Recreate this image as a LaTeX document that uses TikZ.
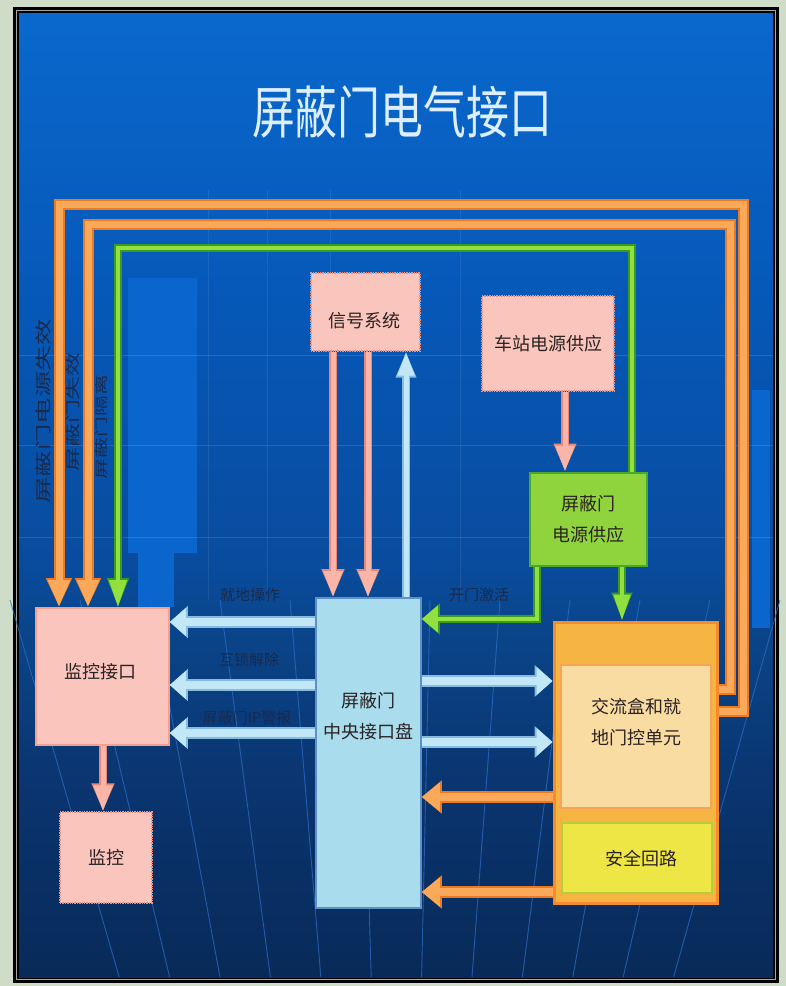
\documentclass[tikz,border=0pt]{standalone}
\usepackage{fontspec}
\newfontfamily\cjk{Noto Sans CJK SC}
\usetikzlibrary{arrows.meta,calc}
\definecolor{framebg}{HTML}{CFDCC8}
\definecolor{bgA}{HTML}{0A68CC}
\definecolor{bgB}{HTML}{0658B8}
\definecolor{bgC}{HTML}{094C9E}
\definecolor{bgD}{HTML}{0A4488}
\definecolor{bgD2}{HTML}{0A3570}
\definecolor{bgE}{HTML}{082A58}
\definecolor{bldg}{HTML}{0A66CC}
\definecolor{pinkF}{HTML}{F9C5BD}
\definecolor{pinkB}{HTML}{E0948A}
\definecolor{pinkS}{HTML}{F3A090}
\definecolor{greenF}{HTML}{8FD43C}
\definecolor{greenB}{HTML}{4AA82A}
\definecolor{panelF}{HTML}{A9DCEC}
\definecolor{panelB}{HTML}{5F8FC8}
\definecolor{oboxF}{HTML}{F6B443}
\definecolor{oboxB}{HTML}{F58B2C}
\definecolor{cboxF}{HTML}{F9DCA2}
\definecolor{cboxB}{HTML}{F6A45A}
\definecolor{yboxF}{HTML}{EDE645}
\definecolor{yboxB}{HTML}{B5CF3C}
\definecolor{txtC}{HTML}{2B2222}
\definecolor{lblC}{HTML}{1A2A4C}
\definecolor{titleC}{HTML}{DCEEFF}
\definecolor{arBlueF}{HTML}{C2E8F8}
\definecolor{arBlueB}{HTML}{86BCE2}
\definecolor{arOrF}{HTML}{FAA85A}
\definecolor{arOrB}{HTML}{EC7A22}
\definecolor{arPkF}{HTML}{F9B6A8}
\definecolor{arPkB}{HTML}{E8887A}
\definecolor{arGrF}{HTML}{92E040}
\definecolor{arGrB}{HTML}{3A9A22}
\definecolor{floorL}{HTML}{2C6CC8}
\pgfdeclareverticalshading{bgshade}{100bp}{color(0bp)=(bgE); color(25bp)=(bgE); color(35.2bp)=(bgD2); color(42.5bp)=(bgD); color(46.6bp)=(bgC); color(60bp)=(bgB); color(75bp)=(bgA); color(100bp)=(bgA)}
\tikzset{
  boxtext/.style={text=txtC, font={\cjk\fontsize{18}{31}\selectfont}, align=center, inner sep=0pt},
  pinkdot/.style={boxtext, fill=pinkF, draw=pinkB, densely dotted, line width=1.4pt},
  pinksolid/.style={boxtext, fill=pinkF, draw=pinkS, line width=1.6pt},
  greenbox/.style={boxtext, fill=greenF, draw=greenB, line width=2pt},
  panelbox/.style={boxtext, fill=panelF, draw=panelB, line width=1.6pt},
  obox/.style={boxtext, fill=oboxF, draw=oboxB, line width=3pt},
  cbox/.style={boxtext, fill=cboxF, draw=cboxB, line width=2pt},
  ybox/.style={boxtext, fill=yboxF, draw=yboxB, line width=2pt},
  lbl/.style={text=lblC, font={\cjk\fontsize{15}{18}\selectfont}, inner sep=0pt},
  bluearrow/.style={draw=arBlueF, line width=8pt, -{Triangle[width=27pt,length=16pt]},
     preaction={draw=arBlueB, line width=11.5pt, -{Triangle[width=31pt,length=18pt]}}},
  blueup/.style={draw=arBlueF, line width=5pt, -{Triangle[width=16pt,length=24pt]},
     preaction={draw=arBlueB, line width=8pt, -{Triangle[width=19pt,length=26pt]}}},
  orangearrow/.style={draw=arOrF, line width=8pt, -{Triangle[width=28pt,length=18pt]},
     preaction={draw=arOrB, line width=11.5pt, -{Triangle[width=32pt,length=20pt]}}},
  pinkarrow/.style={draw=arPkF, line width=5pt, -{Triangle[width=18pt,length=26pt]},
     preaction={draw=arPkB, line width=8.5pt, -{Triangle[width=21pt,length=28pt]}}},
  greenarrow/.style={draw=arGrF, line width=4.5pt, line join=miter, -{Triangle[width=26pt,length=16pt]},
     preaction={draw=arGrB, line width=8pt, line join=miter, -{Triangle[width=30pt,length=18pt]}}},
  greendown/.style={draw=arGrF, line width=4.5pt, -{Triangle[width=16pt,length=26pt]},
     preaction={draw=arGrB, line width=8pt, -{Triangle[width=19pt,length=28pt]}}},
  greenloop/.style={draw=arGrF, line width=4.5pt, line join=miter, -{Triangle[width=17pt,length=27pt]},
     preaction={draw=arGrB, line width=8pt, line join=miter, -{Triangle[width=20pt,length=29pt]}}},
  orangeloop/.style={draw=arOrF, line width=7pt, line join=miter, -{Triangle[width=20pt,length=27pt]},
     preaction={draw=arOrB, line width=11pt, line join=miter, -{Triangle[width=24pt,length=29pt]}}},
}
\begin{document}
\begin{tikzpicture}[x=1pt,y=-1pt]
\useasboundingbox (0,0) rectangle (786,986);
% frame and background
\fill[framebg] (0,0) rectangle (786,986);
\fill[black] (13,7) rectangle (779,983);
\draw[gray!70, line width=0.8pt] (16.5,10.5) rectangle (775.5,979.5);
\shade[shading=bgshade] (19,13) rectangle (773,977);
% background silhouettes and grid
\fill[bldg] (128,278) rectangle (197,553);
\fill[bldg] (138,553) rectangle (174,607);
\fill[bldg] (752,390) rectangle (770,628);
\foreach \yy in {355,445,537} \draw[white, opacity=0.12, line width=1pt] (19,\yy) -- (773,\yy);
\foreach \xx in {208,267,330,460} \draw[white, opacity=0.08, line width=1pt] (\xx,190) -- (\xx,600);
\foreach \xt in {10,80,150,220,290,360,430,500,570,640,710,780}
  \draw[floorL, opacity=0.75, line width=0.9pt] (\xt,600) -- ({400+(\xt-400)*0.72},977);
% title
\node[text=titleC, font={\cjk\fontsize{42}{50}\selectfont}, inner sep=0pt] (title) at (402,112) {\scalebox{1.02}[1.35]{屏蔽门电气接口}};
% side labels
\node[lbl, rotate=90, font={\cjk\fontsize{16}{18}\selectfont}] (v1) at (43,411) {\scalebox{1.65}[1]{屏蔽门电源失效}};
\node[lbl, rotate=90, font={\cjk\fontsize{14.5}{18}\selectfont}] (v2) at (73,412) {\scalebox{1.65}[1]{屏蔽门失效}};
\node[lbl, rotate=90, font={\cjk\fontsize{13}{16}\selectfont}] (v3) at (102,427) {\scalebox{1.6}[1]{屏蔽门隔离}};
% boxes
\node[pinkdot, minimum width=109pt, minimum height=78pt] (xh) at (365.5,312) {};
\node[boxtext] (xht) at (364,321) {信号系统};
\node[pinkdot, minimum width=132pt, minimum height=95pt] (cz) at (548,343.5) {车站电源供应};
\node[greenbox, minimum width=117pt, minimum height=93pt] (gp) at (588,519) {屏蔽门\\电源供应};
\node[pinksolid, minimum width=133pt, minimum height=137pt] (jk) at (102.5,676.5) {};
\node[boxtext] (jkt) at (100,672) {监控接口};
\node[pinkdot, minimum width=92pt, minimum height=91pt] (jc) at (106,857.5) {监控};
\node[panelbox, minimum width=105pt, minimum height=310pt] (zy) at (368.5,753) {};
\node[boxtext] (zyt) at (368.5,716) {屏蔽门\\中央接口盘};
\node[obox, minimum width=163pt, minimum height=281pt] (ob) at (635.5,762.5) {};
\node[cbox, minimum width=150pt, minimum height=143pt] (ac) at (636,736.5) {};
\node[boxtext] (act) at (636,722) {交流盒和就\\地门控单元};
\node[ybox, minimum width=150pt, minimum height=70pt] (aq) at (637,858) {};
\node[boxtext] (aqt) at (641,859) {安全回路};
% helper coordinates
\coordinate (xa) at (333,0);
\coordinate (xb) at (368,0);
\coordinate (xc) at (406,0);
\coordinate (xd) at (565,0);
\coordinate (xe) at (537,0);
\coordinate (xf) at (622,0);
\coordinate (xk) at (103,0);
\coordinate (ya) at (0,622);
\coordinate (yb) at (0,685);
\coordinate (yc) at (0,733);
\coordinate (yd) at (0,681);
\coordinate (ye) at (0,742);
\coordinate (yf) at (0,797);
\coordinate (yg) at (0,892);
\coordinate (yh) at (0,619);
\coordinate (o1) at (743,711);
\coordinate (o2) at (743,204);
\coordinate (o3) at (59,204);
\coordinate (i1) at (730,689);
\coordinate (i2) at (730,224);
\coordinate (i3) at (88,224);
\coordinate (g2) at (632,248);
\coordinate (g3) at (118,248);
% loops
\draw[orangeloop] (ob.east |- o1) -- (o1) -- (o2) -- (o3) -- (jk.north -| o3);
\draw[orangeloop] (ob.east |- i1) -- (i1) -- (i2) -- (i3) -- (jk.north -| i3);
\draw[greenloop] (gp.north -| g2) -- (g2) -- (g3) -- (jk.north -| g3);
% signal system arrows
\draw[pinkarrow] (xh.south -| xa) -- (zy.north -| xa);
\draw[pinkarrow] (xh.south -| xb) -- (zy.north -| xb);
\draw[blueup] (zy.north -| xc) -- (xh.south -| xc);
% power supply
\draw[pinkarrow] (cz.south -| xd) -- (gp.north -| xd);
\draw[greenarrow] (gp.south -| xe) -- (xe |- yh) -- (zy.east |- yh);
\draw[greendown] (gp.south -| xf) -- (ob.north -| xf);
% panel to monitoring interface
\draw[bluearrow] (zy.west |- ya) -- (jk.east |- ya);
\draw[bluearrow] (zy.west |- yb) -- (jk.east |- yb);
\draw[bluearrow] (zy.west |- yc) -- (jk.east |- yc);
% panel to door unit
\draw[bluearrow] (zy.east |- yd) -- (ob.west |- yd);
\draw[bluearrow] (zy.east |- ye) -- (ob.west |- ye);
\draw[orangearrow] (ob.west |- yf) -- (zy.east |- yf);
\draw[orangearrow] (ob.west |- yg) -- (zy.east |- yg);
% monitoring
\draw[pinkarrow] (jk.south -| xk) -- (jc.north -| xk);
% labels
\node[lbl] (l1) at (250,595) {就地操作};
\node[lbl] (l2) at (249,660) {互锁解除};
\node[lbl] (l3) at (247,718) {屏蔽门IP警报};
\node[lbl] (l4) at (479,595) {开门激活};
\end{tikzpicture}
\end{document}
